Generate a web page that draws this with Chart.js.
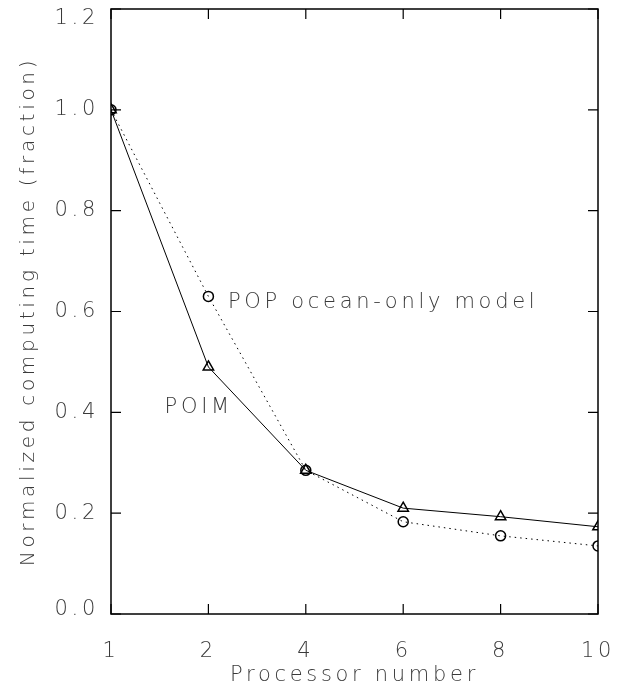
<!DOCTYPE html>
<html>
<head>
<meta charset="utf-8">
<script src="https://cdn.jsdelivr.net/npm/chart.js@4"></script>
<style>
  html, body { margin: 0; padding: 0; background: #ffffff; }
  #wrap { width: 621px; height: 691px; }
</style>
</head>
<body>
<div id="wrap"><canvas id="c" width="621" height="691"></canvas></div>
<script>
// ---- data ----
const categories = ['1', '2', '4', '6', '8', '10'];
const poimValues = [1.0, 0.49, 0.285, 0.21, 0.193, 0.173];
const popValues = [1.0, 0.63, 0.285, 0.183, 0.155, 0.135];
const yMin = 0, yMax = 1.2, yStep = 0.2;
const xTitle = 'Processor number';
const yTitle = 'Normalized computing time (fraction)';
const annoTexts = ['POP ocean-only model', 'POIM'];
const annoX = [1.2, 0.55];
const annoY = [0.618, 0.41];

const FONT = '"DejaVu Sans", sans-serif';
const TEXT_COLOR = '#3a3a3a';
const SPACING = '3.7px';

const spacingPlugin = {
  id: 'spacing',
  beforeUpdate(chart) { chart.ctx.letterSpacing = SPACING; },
  beforeDraw(chart) {
    chart.ctx.letterSpacing = SPACING;
    // keep the end labels of the value axis inside the frame, as in the original
    const ys = chart.scales.y;
    const items = ys.getLabelItems(chart.chartArea);
    if (items && items.length) {
      const first = items[0], last = items[items.length - 1];
      if (first.options && first.options.translation) first.options.translation[1] -= 4;
      if (last.options && last.options.translation) last.options.translation[1] += 10;
    }
  }
};

const framePlugin = {
  id: 'frame',
  afterDatasetsDraw(chart) {
    const {ctx, chartArea: a, scales} = chart;
    ctx.save();
    ctx.strokeStyle = '#000';
    ctx.lineWidth = 1.5;
    ctx.strokeRect(a.left, a.top, a.right - a.left, a.bottom - a.top);
    ctx.lineWidth = 1.2;
    const L = 10;
    ctx.beginPath();
    scales.x.ticks.forEach((t, i) => {
      const px = scales.x.getPixelForTick(i);
      ctx.moveTo(px, a.bottom); ctx.lineTo(px, a.bottom - L);
      ctx.moveTo(px, a.top); ctx.lineTo(px, a.top + L);
    });
    scales.y.ticks.forEach((t) => {
      const py = scales.y.getPixelForValue(t.value);
      ctx.moveTo(a.left, py); ctx.lineTo(a.left + L, py);
      ctx.moveTo(a.right, py); ctx.lineTo(a.right - L, py);
    });
    ctx.stroke();
    // annotations
    ctx.letterSpacing = SPACING;
    ctx.fillStyle = TEXT_COLOR;
    ctx.font = '200 21px ' + FONT;
    ctx.textAlign = 'left';
    ctx.textBaseline = 'middle';
    annoTexts.forEach((txt, i) => {
      ctx.fillText(txt, scales.x.getPixelForValue(annoX[i]), scales.y.getPixelForValue(annoY[i]));
    });
    ctx.restore();
  }
};

new Chart(document.getElementById('c'), {
  type: 'line',
  data: {
    labels: categories,
    datasets: [
      {
        label: 'POIM',
        data: poimValues,
        borderColor: '#000',
        borderWidth: 1,
        pointStyle: 'triangle',
        pointRadius: 6,
        pointBorderWidth: 1.5,
        pointBackgroundColor: 'rgba(0,0,0,0)',
        pointBorderColor: '#000',
        tension: 0,
        clip: 0
      },
      {
        label: 'POP ocean-only model',
        data: popValues,
        borderColor: '#000',
        borderWidth: 1,
        borderDash: [1.5, 4],
        pointStyle: 'circle',
        pointRadius: 5,
        pointBorderWidth: 1.5,
        pointBackgroundColor: 'rgba(0,0,0,0)',
        pointBorderColor: '#000',
        tension: 0,
        clip: 0
      }
    ]
  },
  options: {
    responsive: false,
    animation: false,
    devicePixelRatio: 1,
    layout: { padding: { top: 9, right: 23, left: 0, bottom: 0 } },
    plugins: { legend: { display: false }, tooltip: { enabled: false } },
    scales: {
      x: {
        type: 'category',
        offset: false,
        grid: { display: false, drawTicks: false },
        border: { display: false },
        ticks: { color: TEXT_COLOR, font: { family: FONT, size: 21, weight: 200 }, padding: 25, maxRotation: 0 },
        title: { display: true, text: xTitle, color: TEXT_COLOR, font: { family: FONT, size: 21, weight: 200 }, padding: { top: 0, bottom: 3 } },
        afterFit(s) { s.height = 77; s.paddingLeft = 0; s.paddingRight = 0; }
      },
      y: {
        min: yMin, max: yMax,
        grid: { display: false, drawTicks: false },
        border: { display: false },
        ticks: { stepSize: yStep, color: TEXT_COLOR, font: { family: FONT, size: 21, weight: 200 }, padding: 12,
                 callback: (v) => Number(v).toFixed(1) },
        title: { display: true, text: yTitle, color: TEXT_COLOR, font: { family: FONT, size: 20, weight: 200 }, padding: { top: 17, bottom: 0 } },
        afterFit(s) { s.width = 111; s.paddingTop = 0; s.paddingBottom = 0; }
      }
    }
  },
  plugins: [spacingPlugin, framePlugin]
});
</script>
</body>
</html>
